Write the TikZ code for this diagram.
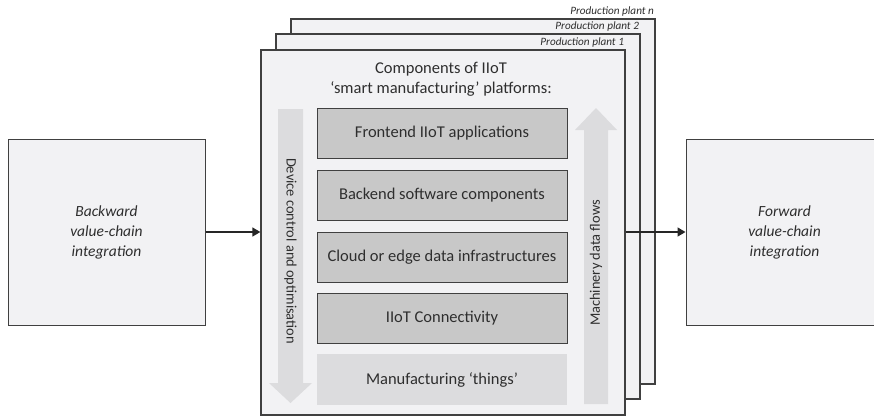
\documentclass[tikz,border=0pt]{standalone}
\usepackage{fontspec}
\setmainfont{Carlito}
\usetikzlibrary{arrows.meta}
\definecolor{boxfill}{HTML}{F2F2F4}
\definecolor{layerfill}{HTML}{C8C8C8}
\definecolor{flowfill}{HTML}{DCDCDE}
\definecolor{edge}{HTML}{404040}
\definecolor{txt}{HTML}{2E2E2E}
\tikzset{
  plantbox/.style={draw=edge, line width=1.3pt, fill=boxfill, minimum width=364pt, minimum height=365pt, inner sep=0pt},
  sidebox/.style={draw=edge, line width=1pt, fill=boxfill, minimum width=197pt, minimum height=186pt, align=center, text=txt, font=\fontsize{15.5}{20}\selectfont\itshape},
  layerbox/.style={draw=edge, line width=1pt, fill=layerfill, minimum width=250pt, minimum height=50pt, text=txt, font=\fontsize{16.5}{18}\selectfont},
  thingbox/.style={fill=flowfill, minimum width=250pt, minimum height=51pt, text=txt, font=\fontsize{16.5}{18}\selectfont},
  plantlabel/.style={anchor=south east, inner sep=1.5pt, text=txt, font=\fontsize{11.2}{12}\selectfont\itshape},
  flowtext/.style={text=txt, font=\fontsize{14.4}{16}\selectfont},
  link/.style={draw=black!85, line width=1.5pt, -{Triangle[length=8pt,width=9pt]}}
}
\begin{document}
\begin{tikzpicture}[x=1pt,y=-1pt]
\useasboundingbox (0,0) rectangle (874,416);
\begin{scope}
\clip (0,0) rectangle (874,416);
% side boxes
\node[sidebox] (back) at (106.5,232) {Backward\\value-chain\\integration};
\node[sidebox] (fwd) at (784.5,232) {Forward\\value-chain\\integration};
% plant boxes
\node[plantbox] (pn) at (473,201.5) {};
\node[plantbox] (p2) at (458,216.5) {};
\node[plantbox] (p1) at (443,232.5) {};
\node[plantlabel] (lpn) at (pn.north east) {Production plant n};
\node[plantlabel] (lp2) at (p2.north east) {Production plant 2};
\node[plantlabel] (lp1) at (p1.north east) {Production plant 1};
% title
\node[text=txt, align=center, font=\fontsize{16.5}{20}\selectfont] (title) at (441,79) {Components of IIoT\\`smart manufacturing' platforms:};
% flow arrows
\fill[flowfill] (278,109) -- (303,109) -- (303,383) -- (312,383) -- (290.5,403) -- (269,383) -- (278,383) -- cycle;
\fill[flowfill] (584,404) -- (608,404) -- (608,130) -- (617,130) -- (596,108) -- (575,130) -- (584,130) -- cycle;
\node[flowtext, rotate=-90] (down) at (290.5,251) {Device control and optimisation};
\node[flowtext, rotate=90] (up) at (596,263) {Machinery data flows};
% layers
\node[layerbox] (fe) at (442,133) {Frontend IIoT applications};
\node[layerbox] (be) at (442,195) {Backend software components};
\node[layerbox] (cl) at (442,257) {Cloud or edge data infrastructures};
\node[layerbox] (co) at (442,318) {IIoT Connectivity};
\node[thingbox] (th) at (442,379.5) {Manufacturing `things'};
% connectors
\draw[link] (back.east) -- (back.east -| p1.west);
\draw[link] (p1.east |- fwd.west) -- (fwd.west);
\end{scope}
\end{tikzpicture}
\end{document}
